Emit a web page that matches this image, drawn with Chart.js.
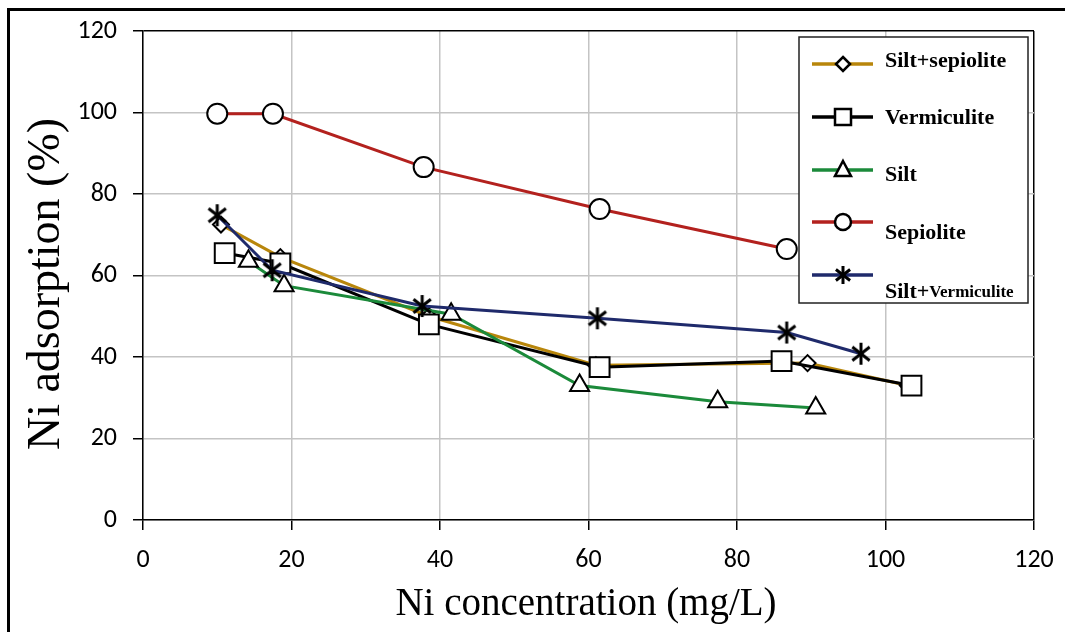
<!DOCTYPE html>
<html>
<head>
<meta charset="utf-8">
<title>Ni adsorption</title>
<script src="https://cdn.jsdelivr.net/npm/chart.js@4.4.1/dist/chart.umd.min.js"></script>
<style>
  html, body { margin: 0; padding: 0; background: #fff; }
  canvas { display: block; }
</style>
</head>
<body>
<canvas id="niChart" width="1065" height="632"></canvas>
<script>
// Ni concentration (mg/L) and adsorption (%) for each sorbent
const siltSepX = [10.5, 18.5, 38.5, 61, 89.5, 103];
const siltSepY = [72.5, 64.5, 50, 38, 38.5, 33];

const vermX = [11, 18.5, 38.5, 61.5, 86, 103.5];
const vermY = [65.5, 63, 48, 37.5, 39, 33];

const siltX = [14.2, 19, 41.5, 58.8, 77.4, 90.6];
const siltY = [63.5, 57.5, 50.5, 33, 29, 27.5];

const sepX = [10, 17.5, 37.8, 61.5, 86.7];
const sepY = [99.7, 99.7, 86.6, 76.3, 66.5];

const siltVermX = [10, 17.4, 37.6, 61.2, 86.7, 96.7];
const siltVermY = [74.8, 61.3, 52.5, 49.5, 46, 40.8];

const seriesNames = ['Silt+sepiolite', 'Vermiculite', 'Silt', 'Sepiolite', 'Silt+Vermiculite'];
const seriesColors = ['#B8860B', '#000000', '#1B8A3A', '#B3211E', '#1F2A6B'];
const axisTicks = [0, 20, 40, 60, 80, 100, 120];

function toPoints(xs, ys) {
    return xs.map((x, i) => ({ x: x, y: ys[i] }));
}

// asterisk marker: vertical bar plus two slanted bars
function makeStar(size, lw) {
    const c = document.createElement('canvas');
    c.width = size;
    c.height = size;
    const g = c.getContext('2d');
    const r = size / 2 - 1;
    g.strokeStyle = '#000';
    g.lineWidth = lw;
    g.lineCap = 'butt';
    g.translate(size / 2, size / 2);
    [90, 38, -38].forEach(deg => {
        const a = deg * Math.PI / 180;
        g.beginPath();
        g.moveTo(-Math.cos(a) * r, -Math.sin(a) * r);
        g.lineTo(Math.cos(a) * r, Math.sin(a) * r);
        g.stroke();
    });
    return c;
}

const starBig = makeStar(24, 3);
const starSmall = makeStar(20, 3);

function series(i, xs, ys, style, radius, order) {
    return {
        label: seriesNames[i],
        data: toPoints(xs, ys),
        borderColor: seriesColors[i],
        borderWidth: 3,
        tension: 0,
        pointStyle: style,
        pointRadius: radius,
        pointBorderColor: '#000',
        pointBackgroundColor: '#fff',
        pointBorderWidth: 2,
        order: order,
        clip: false
    };
}

const legendStyles = ['diamond', 'square', 'triangle', 'circle', 'star'];

function drawLegendMarker(ctx, kind, x, y) {
    ctx.save();
    ctx.fillStyle = '#fff';
    ctx.strokeStyle = '#000';
    ctx.lineWidth = 2.5;
    ctx.beginPath();
    if (kind === 'diamond') {
        ctx.moveTo(x, y - 7); ctx.lineTo(x + 7, y); ctx.lineTo(x, y + 7); ctx.lineTo(x - 7, y);
        ctx.closePath();
    } else if (kind === 'square') {
        ctx.rect(x - 8, y - 8, 16, 16);
    } else if (kind === 'triangle') {
        ctx.moveTo(x, y - 9); ctx.lineTo(x + 8, y + 6); ctx.lineTo(x - 8, y + 6);
        ctx.closePath();
    } else if (kind === 'circle') {
        ctx.arc(x, y, 8, 0, Math.PI * 2);
    }
    if (kind === 'star') {
        ctx.drawImage(starSmall, x - 10, y - 10);
    } else {
        ctx.fill();
        ctx.stroke();
    }
    ctx.restore();
}

const decorPlugin = {
    id: 'decor',
    afterDraw(chart) {
        const ctx = chart.ctx;
        ctx.save();

        // outer frame
        ctx.strokeStyle = '#000';
        ctx.lineWidth = 3;
        ctx.beginPath();
        ctx.moveTo(8.5, 632);
        ctx.lineTo(8.5, 9.5);
        ctx.lineTo(1065, 9.5);
        ctx.stroke();

        // axis titles
        ctx.fillStyle = '#000';
        ctx.textAlign = 'center';
        ctx.textBaseline = 'middle';
        ctx.font = '39px "Liberation Serif", "Times New Roman", serif';
        ctx.fillText('Ni concentration (mg/L)', 586, 605);
        ctx.save();
        ctx.translate(47, 284);
        ctx.rotate(-Math.PI / 2);
        ctx.font = '46px "Liberation Serif", "Times New Roman", serif';
        ctx.fillText('Ni adsorption (%)', 0, 0);
        ctx.restore();

        // legend box
        const lx = 799, ly = 37, lw = 229, lh = 266;
        ctx.fillStyle = '#fff';
        ctx.fillRect(lx, ly, lw, lh);
        ctx.strokeStyle = '#222';
        ctx.lineWidth = 1.5;
        ctx.strokeRect(lx, ly, lw, lh);

        const rows = [64, 117, 170, 222, 275];
        const textY = [61, 118, 175, 233, 292];
        rows.forEach((ry, i) => {
            ctx.strokeStyle = seriesColors[i];
            ctx.lineWidth = 3.5;
            ctx.beginPath();
            ctx.moveTo(812, ry);
            ctx.lineTo(873, ry);
            ctx.stroke();
            drawLegendMarker(ctx, legendStyles[i], 843, ry);

            ctx.fillStyle = '#000';
            ctx.textAlign = 'left';
            ctx.textBaseline = 'middle';
            if (i === 4) {
                ctx.font = 'bold 22px "Liberation Serif", serif';
                ctx.fillText('Silt+', 885, textY[i]);
                const w = ctx.measureText('Silt+').width;
                ctx.font = 'bold 17px "Liberation Serif", serif';
                ctx.fillText('Vermiculite', 885 + w, textY[i] + 1);
            } else {
                ctx.font = 'bold 22px "Liberation Serif", serif';
                ctx.fillText(seriesNames[i], 885, textY[i]);
            }
        });
        ctx.restore();
    }
};

const gridColor = c => (c.tick && c.tick.value === 120) ? '#000' : '#c4c4c4';

// keep the plot box fixed regardless of tick label overhang
function fixBox(s, size) {
    if (s.isHorizontal()) {
        s.height = size;
    } else {
        s.width = size;
    }
    s.paddingLeft = 0;
    s.paddingRight = 0;
    s.paddingTop = 0;
    s.paddingBottom = 0;
}

new Chart(document.getElementById('niChart'), {
    type: 'line',
    data: {
        datasets: [
            series(0, siltSepX, siltSepY, 'rectRot', 8, 4),
            series(1, vermX, vermY, 'rect', 14, 3),
            series(2, siltX, siltY, 'triangle', 11, 2),
            series(3, sepX, sepY, 'circle', 10, 1),
            series(4, siltVermX, siltVermY, starBig, 12, 0)
        ]
    },
    options: {
        responsive: false,
        animation: false,
        devicePixelRatio: 1,
        layout: { padding: { top: 31, right: 31, left: 0, bottom: 0 } },
        plugins: {
            legend: { display: false },
            tooltip: { enabled: false }
        },
        scales: {
            x: {
                type: 'linear',
                min: 0,
                max: 120,
                afterBuildTicks: s => { s.ticks = axisTicks.map(v => ({ value: v })); },
                afterFit: s => fixBox(s, 112),
                border: { color: '#000', width: 1.5 },
                grid: { color: gridColor, lineWidth: 1.5, tickLength: 10, tickColor: '#000', tickWidth: 1.5 },
                ticks: {
                    padding: 15,
                    maxRotation: 0,
                    color: '#000',
                    font: { family: 'Carlito, Lato, sans-serif', size: 26 }
                }
            },
            y: {
                type: 'linear',
                min: 0,
                max: 120,
                afterBuildTicks: s => { s.ticks = axisTicks.map(v => ({ value: v })); },
                afterFit: s => fixBox(s, 143),
                border: { color: '#000', width: 1.5 },
                grid: { color: gridColor, lineWidth: 1.5, tickLength: 10, tickColor: '#000', tickWidth: 1.5 },
                ticks: {
                    padding: 16,
                    color: '#000',
                    font: { family: 'Carlito, Lato, sans-serif', size: 26 }
                }
            }
        }
    },
    plugins: [decorPlugin]
});
</script>
</body>
</html>
